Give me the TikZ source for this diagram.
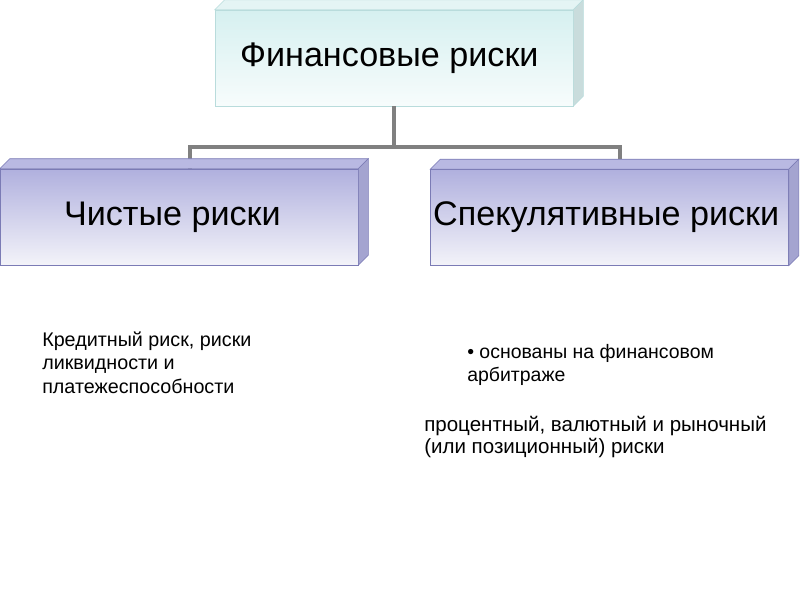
\documentclass[tikz,border=0pt]{standalone}
\usepackage{fontspec}
\setmainfont{Liberation Sans}
\usetikzlibrary{calc}

\definecolor{finline}{HTML}{B9DCDC}
\definecolor{fintop}{HTML}{D6F0F0}
\definecolor{finbot}{HTML}{F7FCFC}
\definecolor{finside}{HTML}{C9DCDC}
\definecolor{finlid}{HTML}{E4F4F4}
\definecolor{kindline}{HTML}{7B7BB5}
\definecolor{kindtop}{HTML}{B0B0DE}
\definecolor{kindbot}{HTML}{F3F3F9}
\definecolor{kindside}{HTML}{A4A4D0}
\definecolor{kindlid}{HTML}{B9B9E2}
\definecolor{linkgray}{HTML}{808080}

\begin{document}
\begin{tikzpicture}[x=0.75pt,y=0.75pt,yscale=-1,xscale=1,
  front/.style={inner sep=0pt,minimum width=268.5pt,minimum height=72pt,font=\fontsize{25.6}{30}\selectfont},
  finbox/.style={front,draw=finline,top color=fintop,bottom color=finbot},
  kindbox/.style={front,draw=kindline,top color=kindtop,bottom color=kindbot},
  link/.style={draw=linkgray,line width=3pt},
  note/.style={anchor=north west,inner sep=0.75pt,align=left,font=\fontsize{14.8}{17.3}\selectfont}]
\useasboundingbox (0,0) rectangle (800,600);

% Shape: Boxes
\node[finbox] (fin) at (394,58) {Финансовые риски\hspace*{7pt}};
\node[kindbox] (pure) at (179,217) {Чистые риски\hspace*{10pt}};
\node[kindbox] (spec) at (609.5,217.5) {Спекулятивные риски\hspace*{5pt}};

%Straight Lines
\draw[link] (fin.south) -- ++(0,41) -| ([xshift=8pt]pure.north);
\draw[link] (fin.south) -- ++(0,41) -| ([xshift=8pt]spec.north);

% Shape: top and side faces
\foreach \b/\ln/\ld/\sd in {fin/finline/finlid/finside,pure/kindline/kindlid/kindside,spec/kindline/kindlid/kindside}{
  \draw[draw=\ln,fill=\ld] (\b.north west) -- ($(\b.north west)+(10,-10)$) -- ($(\b.north east)+(10,-10)$) -- (\b.north east) -- cycle;
  \draw[draw=\ln,fill=\sd] (\b.north east) -- ($(\b.north east)+(10,-10)$) -- ($(\b.south east)+(10,-10)$) -- (\b.south east) -- cycle;
}

% Text Node
\node[note] (credit) at (41,331) {Кредитный риск, риски\\ликвидности и\\платежеспособности};
% Text Node
\node[note,font=\fontsize{14.6}{17.3}\selectfont] (arb) at (466,343) {• основаны на финансовом\\арбитраже};
% Text Node
\node[note,font=\fontsize{15.4}{16.5}\selectfont] (kinds) at (423,415) {процентный, валютный и рыночный\\(или позиционный) риски};
\end{tikzpicture}
\end{document}
